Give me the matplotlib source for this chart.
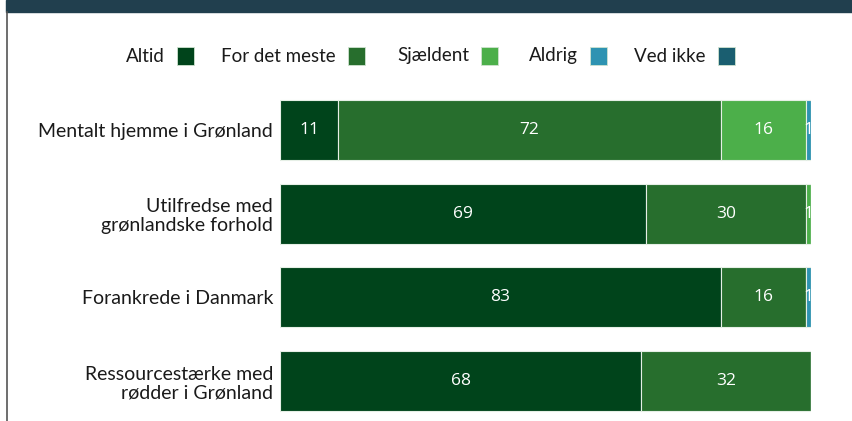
import numpy as np
import matplotlib.pyplot as plt
from matplotlib.patches import Rectangle

# ---------------------------------------------------------------------------
# DATA
# ---------------------------------------------------------------------------
categories = [
    "Mentalt hjemme i Grønland",
    "Utilfredse med\ngrønlandske forhold",
    "Forankrede i Danmark",
    "Ressourcestærke med\nrødder i Grønland",
]
series_names = ["Altid", "For det meste", "Sjældent", "Aldrig", "Ved ikke"]
altid = [11, 69, 83, 68]
for_det_meste = [72, 30, 16, 32]
sjaeldent = [16, 1, 0, 0]
aldrig = [1, 0, 1, 0]
ved_ikke = [0, 0, 0, 0]

colors = ["#00441b", "#276e2d", "#4caf4a", "#2e93b2", "#1a5e70"]

LABEL_FONT = "Lato"
W, H = 852, 421

fig = plt.figure(figsize=(W / 100, H / 100), dpi=100)

# header bar + left border
fig.patches.append(Rectangle((6 / W, 1 - 12 / H), 1, 12 / H,
                             transform=fig.transFigure, color="#213f4e", zorder=0))
fig.add_artist(plt.Line2D([6.5 / W, 6.5 / W], [0, 1 - 12 / H],
                          transform=fig.transFigure, color="#555555", lw=1.2))

# axes: bars from x=280 to x=811 px; row pitch ~83.7 px, first row centre y=130
pitch = 83.7
top_px = 130 - pitch / 2
bottom_px = top_px + 4 * pitch
ax = fig.add_axes([280 / W, 1 - bottom_px / H, 531 / W, 4 * pitch / H])
n = len(categories)
y = np.arange(n)
ax.set_xlim(0, 100)
ax.set_ylim(n - 0.5, -0.5)

values = [altid, for_det_meste, sjaeldent, aldrig, ved_ikke]
left = np.zeros(n)
for name, vals, col in zip(series_names, values, colors):
    vals = np.array(vals, dtype=float)
    ax.barh(y, vals, left=left, height=0.717, color=col,
            edgecolor="#e6efe6", linewidth=0.8, label=name)
    for i, v in enumerate(vals):
        if v > 0:
            ax.text(left[i] + v / 2, y[i], f"{v:g}", ha="center", va="center",
                    color="white", fontsize=12.5, family="Open Sans")
    left += vals

ax.set_yticks(y)
ax.set_yticklabels(categories, fontsize=14, family=LABEL_FONT, color="#1a1a1a",
                   linespacing=1.12)
ax.tick_params(axis="y", length=0, pad=5)
ax.set_xticks([])
for s in ax.spines.values():
    s.set_visible(False)

# legend: text followed by colored square (square left edges in px)
square_x = [177, 348, 481, 590, 718]
ly = 1 - 56 / H
for name, sx, col in zip(series_names, square_x, colors):
    fig.text((sx - 12) / W, ly, name, ha="right", va="center", fontsize=13.5,
             family=LABEL_FONT, color="#1a1a1a")
    fig.patches.append(Rectangle((sx / W, 1 - 65 / H), 17 / W, 18 / H,
                                 transform=fig.transFigure, facecolor=col,
                                 edgecolor="#cfe3d0", linewidth=0.6))

fig.savefig("out.png", dpi=100)
